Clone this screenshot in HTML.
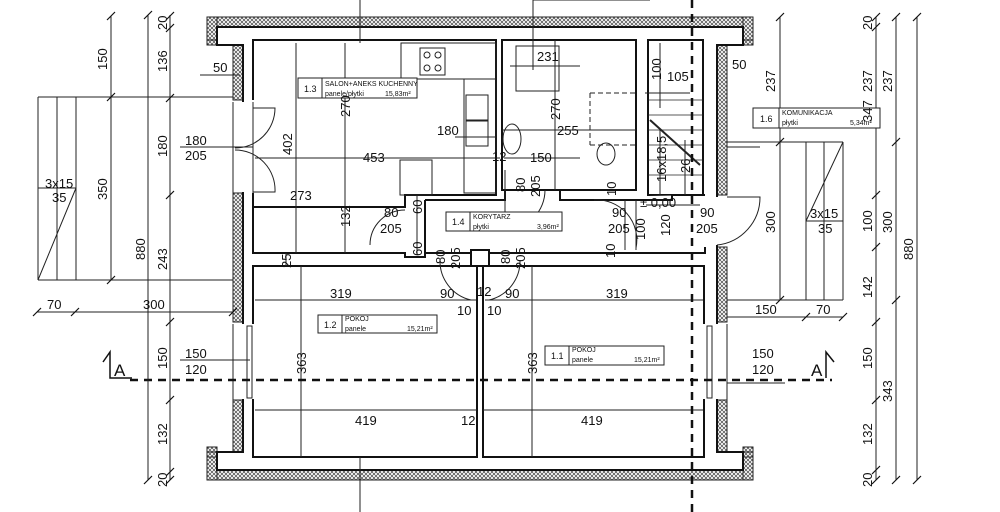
<!DOCTYPE html>
<html><head><meta charset="utf-8"><style>
html,body{margin:0;padding:0;background:#fff}
svg{display:block}
text{font-family:"Liberation Sans",sans-serif;fill:#111}
.d{font-size:13px}
.s{font-size:7px}
</style></head><body>
<svg width="1000" height="512" viewBox="0 0 1000 512" xmlns="http://www.w3.org/2000/svg">
<defs>
<pattern id="h" width="4" height="4" patternUnits="userSpaceOnUse">
<rect width="4" height="4" fill="#fff"/>
<path d="M0 0L4 4M4 0L0 4" stroke="#444" stroke-width="0.7"/>
</pattern>
</defs>
<g stroke="#222" stroke-width="1" fill="url(#h)">
<rect x="207" y="17" width="546" height="10"/>
<rect x="207" y="17" width="10" height="28"/>
<rect x="743" y="17" width="10" height="28"/>
<rect x="207" y="40" width="36" height="5"/>
<rect x="717" y="40" width="36" height="5"/>
<rect x="233" y="40" width="10" height="60"/>
<rect x="233" y="193" width="10" height="129"/>
<rect x="233" y="400" width="10" height="57"/>
<rect x="717" y="40" width="10" height="155"/>
<rect x="717" y="247" width="10" height="75"/>
<rect x="717" y="400" width="10" height="57"/>
<rect x="207" y="470" width="546" height="10"/>
<rect x="207" y="447" width="10" height="33"/>
<rect x="743" y="447" width="10" height="33"/>
<rect x="207" y="452" width="36" height="5"/>
<rect x="717" y="452" width="36" height="5"/>
</g>
<!-- masonry -->
<path d="M217 27H743V45H717V452H743V470H217V452H243V45H217Z" fill="#fff" stroke="#111" stroke-width="2"/>
<g fill="#fff" stroke="#111" stroke-width="2">
<path d="M253 100V40H496V195H405V207H253V253H405V257H425V253"/>
<path d="M253 193V207"/>
<rect x="502" y="40" width="134" height="150"/>
<rect x="648" y="40" width="55" height="155"/>
<path d="M425 200V253H471M489 253H705V247M705 195H672V200H560V190H505V200H425"/>
<rect x="253" y="266" width="224" height="191"/>
<rect x="483" y="266" width="221" height="191"/>
<rect x="471" y="250" width="18" height="16"/>
</g>
<!-- openings -->
<rect x="230" y="102" width="26" height="90" fill="#fff"/>
<rect x="230" y="324" width="26" height="75" fill="#fff"/>
<rect x="702" y="324" width="28" height="75" fill="#fff"/>
<rect x="702" y="197" width="28" height="48" fill="#fff"/>
<g stroke="#222" stroke-width="1" fill="none">
<line x1="233" y1="102" x2="233" y2="193"/><line x1="253" y1="102" x2="253" y2="193"/>
<rect x="247" y="326" width="5" height="72"/><line x1="233" y1="324" x2="233" y2="400"/>
<rect x="707" y="326" width="5" height="72"/><line x1="727" y1="324" x2="727" y2="400"/>
<path d="M253 108H275A40 40 0 0 1 235 148M253 192H275A40 40 0 0 0 235 150"/>
<path d="M727 197H760A48 48 0 0 1 717 245"/>
<path d="M405 210A35 35 0 0 0 370 245"/>
<path d="M505 170V230A40 40 0 0 0 545 190"/>
<path d="M636 200V248A40 40 0 0 0 594 200"/>
<path d="M440 260A40 40 0 0 0 471 300M520 260A40 40 0 0 1 489 300"/>
<!-- kitchen -->
<rect x="401" y="43" width="95" height="36"/>
<rect x="420" y="48" width="25" height="27"/>
<circle cx="427" cy="55" r="3"/><circle cx="438" cy="55" r="3"/><circle cx="427" cy="68" r="3"/><circle cx="438" cy="68" r="3"/>
<rect x="464" y="79" width="32" height="114"/>
<rect x="466" y="95" width="22" height="25"/><rect x="466" y="121" width="22" height="25"/>
<rect x="400" y="160" width="32" height="35"/>
<rect x="516" y="46" width="43" height="45"/>
<ellipse cx="512" cy="139" rx="9" ry="15"/>
<ellipse cx="606" cy="154" rx="9" ry="11"/>
<path d="M590 93H636M590 93V145M590 145H636" stroke-dasharray="5 3"/>
<path d="M650 120L700 165" stroke-width="2"/>
<path d="M648 100H703M648 115H703M648 130H703M648 145H703M648 160H703M648 175H703" stroke-width="0.7"/>
<!-- dims inside -->
<path d="M345 43V253M296 43V253M255 158H500M455 137H496M504 158H580M510 66H580M502 130H636M555 40V190M660 43V108M645 93H690M660 130V195M685 140V195M646 205H700M636 205V250M625 200V250M417 195V255M255 300H476M485 300H703M255 410H477M483 410H703M301 266V457M532 266V457M286 253V266"/>
</g>
<!-- section and axis lines -->
<line x1="130" y1="380" x2="832" y2="380" stroke="#111" stroke-width="2.5" stroke-dasharray="8 6"/>
<line x1="692" y1="0" x2="692" y2="512" stroke="#111" stroke-width="2.5" stroke-dasharray="8 6"/>
<g stroke="#111" stroke-width="1.5" fill="none">
<path d="M103 362L110 352V378H132"/><path d="M826 378V352L834 362"/>
</g>
<g stroke="#222" stroke-width="1" fill="none">
<line x1="360" y1="0" x2="360" y2="43"/><line x1="360" y1="457" x2="360" y2="512"/>
<path d="M533 70V0H650"/>
<!-- left margin -->
<line x1="111" y1="16" x2="111" y2="280"/>
<line x1="148" y1="15" x2="148" y2="480"/>
<line x1="170" y1="15" x2="170" y2="480"/>
<path d="M38 97H233M38 280H233M38 97V280M57 97V280M76 97V280M38 280L76 188M38 188H76"/>
<path d="M37 312H233M180 147H253M180 360H250M200 75H240"/>
<!-- right margin -->
<line x1="780" y1="17" x2="780" y2="300"/>
<path d="M727 142H843M727 300H843M843 142V300M806 142V300M824 142V300M806 221L843 142M806 221H843"/>
<path d="M727 317H843M727 383H785M727 147H760"/>
<line x1="876" y1="17" x2="876" y2="480"/>
<line x1="896" y1="17" x2="896" y2="480"/>
<line x1="917" y1="17" x2="917" y2="480"/>
</g>
<g stroke="#111" stroke-width="1.2">
<path d="M107 20L115 12M107 101L115 93M107 284L115 276M144 19L152 11M144 484L152 476M166 20L174 12M166 32L174 24M166 102L174 94M166 199L174 191M166 326L174 318M166 404L174 396M166 476L174 468M166 484L174 476M33 316L41 308M71 316L79 308M229 316L237 308"/>
<path d="M776 21L784 13M776 146L784 138M776 304L784 296M872 21L880 13M872 31L880 23M872 199L880 191M872 251L880 243M872 326L880 318M872 404L880 396M872 474L880 466M872 484L880 476M892 21L900 13M892 146L900 138M892 304L900 296M892 484L900 476M913 21L921 13M913 484L921 476M802 321L810 313M839 321L847 313"/>
</g>
<!-- room boxes -->
<g fill="#fff" stroke="#222" stroke-width="1">
<rect x="298" y="78" width="119" height="20"/><line x1="322" y1="78" x2="322" y2="98"/>
<rect x="446" y="212" width="116" height="19"/><line x1="470" y1="212" x2="470" y2="231"/>
<rect x="318" y="315" width="119" height="18"/><line x1="342" y1="315" x2="342" y2="333"/>
<rect x="545" y="346" width="119" height="19"/><line x1="569" y1="346" x2="569" y2="365"/>
<rect x="753" y="108" width="127" height="20"/><line x1="779" y1="108" x2="779" y2="128"/>
</g>
<g class="s">
<text x="304" y="92" fill="#888" font-size="9">1.3</text><text x="325" y="86">SALON+ANEKS KUCHENNY</text><text x="325" y="96">panele/płytki</text><text x="385" y="96">15,83m²</text>
<text x="452" y="225" fill="#888" font-size="9">1.4</text><text x="473" y="219">KORYTARZ</text><text x="473" y="229">płytki</text><text x="537" y="229">3,96m²</text>
<text x="324" y="328" fill="#888" font-size="9">1.2</text><text x="345" y="321">POKOJ</text><text x="345" y="331">panele</text><text x="407" y="331">15,21m²</text>
<text x="551" y="359" fill="#888" font-size="9">1.1</text><text x="572" y="352">POKOJ</text><text x="572" y="362">panele</text><text x="634" y="362">15,21m²</text>
<text x="760" y="122" fill="#888" font-size="9">1.6</text><text x="782" y="115">KOMUNIKACJA</text><text x="782" y="125">płytki</text><text x="850" y="125">5,34m²</text>
</g>
<g class="d">
<text x="213" y="72">50</text><text x="732" y="69">50</text>
<text x="363" y="162">453</text><text x="437" y="135">180</text><text x="290" y="200">273</text>
<text x="492" y="161">12</text><text x="530" y="162">150</text><text x="557" y="135">255</text><text x="537" y="61">231</text>
<text x="667" y="81">105</text><text x="640" y="207">± 0,00</text>
<text x="185" y="145">180</text><text x="185" y="160">205</text>
<text x="185" y="358">150</text><text x="185" y="374">120</text>
<text x="752" y="358">150</text><text x="752" y="374">120</text>
<text x="384" y="217">80</text><text x="380" y="233">205</text>
<text x="612" y="217">90</text><text x="608" y="233">205</text>
<text x="700" y="217">90</text><text x="696" y="233">205</text>
<text x="330" y="298">319</text><text x="440" y="298">90</text><text x="477" y="296">12</text><text x="505" y="298">90</text><text x="606" y="298">319</text>
<text x="457" y="315">10</text><text x="487" y="315">10</text>
<text x="355" y="425">419</text><text x="461" y="425">12</text><text x="581" y="425">419</text>
<text x="47" y="309">70</text><text x="143" y="309">300</text>
<text x="755" y="314">150</text><text x="816" y="314">70</text>
<text x="45" y="188">3x15</text><text x="52" y="202">35</text>
<text x="810" y="218">3x15</text><text x="818" y="233">35</text>
<text x="114" y="376" font-size="17">A</text><text x="811" y="376" font-size="17">A</text>
</g>
<g class="d">
<text transform="translate(107,70) rotate(-90)">150</text>
<text transform="translate(107,200) rotate(-90)">350</text>
<text transform="translate(145,260) rotate(-90)">880</text>
<text transform="translate(167,30) rotate(-90)">20</text>
<text transform="translate(167,72) rotate(-90)">136</text>
<text transform="translate(167,157) rotate(-90)">180</text>
<text transform="translate(167,270) rotate(-90)">243</text>
<text transform="translate(167,369) rotate(-90)">150</text>
<text transform="translate(167,445) rotate(-90)">132</text>
<text transform="translate(167,487) rotate(-90)">20</text>
<text transform="translate(350,117) rotate(-90)">270</text>
<text transform="translate(292,155) rotate(-90)">402</text>
<text transform="translate(350,227) rotate(-90)">132</text>
<text transform="translate(560,120) rotate(-90)">270</text>
<text transform="translate(661,80) rotate(-90)">100</text>
<text transform="translate(666,182) rotate(-90)">16x18,5</text>
<text transform="translate(690,173) rotate(-90)">26</text>
<text transform="translate(616,196) rotate(-90)">10</text>
<text transform="translate(670,236) rotate(-90)">120</text>
<text transform="translate(645,240) rotate(-90)">100</text>
<text transform="translate(615,258) rotate(-90)">10</text>
<text transform="translate(422,214) rotate(-90)">60</text>
<text transform="translate(422,256) rotate(-90)">60</text>
<text transform="translate(291,268) rotate(-90)">25</text>
<text transform="translate(306,374) rotate(-90)">363</text>
<text transform="translate(537,374) rotate(-90)">363</text>
<text transform="translate(525,192) rotate(-90)">80</text><text transform="translate(540,197) rotate(-90)">205</text>
<text transform="translate(445,264) rotate(-90)">80</text><text transform="translate(460,269) rotate(-90)">205</text>
<text transform="translate(510,264) rotate(-90)">80</text><text transform="translate(525,269) rotate(-90)">205</text>
<text transform="translate(775,92) rotate(-90)">237</text>
<text transform="translate(775,233) rotate(-90)">300</text>
<text transform="translate(872,30) rotate(-90)">20</text>
<text transform="translate(872,92) rotate(-90)">237</text>
<text transform="translate(872,122) rotate(-90)">347</text>
<text transform="translate(872,232) rotate(-90)">100</text>
<text transform="translate(872,298) rotate(-90)">142</text>
<text transform="translate(872,369) rotate(-90)">150</text>
<text transform="translate(872,445) rotate(-90)">132</text>
<text transform="translate(872,487) rotate(-90)">20</text>
<text transform="translate(892,92) rotate(-90)">237</text>
<text transform="translate(892,233) rotate(-90)">300</text>
<text transform="translate(892,402) rotate(-90)">343</text>
<text transform="translate(913,260) rotate(-90)">880</text>
</g>
</svg>
</body></html>
